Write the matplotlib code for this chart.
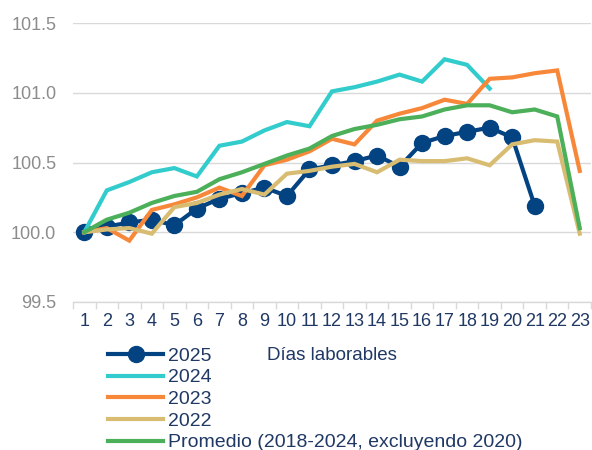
import matplotlib
matplotlib.use('Agg')
import matplotlib.pyplot as plt
import numpy as np

plt.rcParams['font.family'] = ['Liberation Sans', 'DejaVu Sans']

# working days
days = list(range(1, 24))

# index values (day 1 = 100)
y2025 = [100.00, 100.04, 100.07, 100.09, 100.05, 100.17, 100.24, 100.28, 100.32, 100.26,
         100.45, 100.48, 100.51, 100.55, 100.47, 100.64, 100.69, 100.72, 100.75, 100.68,
         100.19]
y2024 = [100.00, 100.30, 100.36, 100.43, 100.46, 100.40, 100.62, 100.65, 100.73, 100.79,
         100.76, 101.01, 101.04, 101.08, 101.13, 101.08, 101.24, 101.20, 101.03]
y2023 = [100.00, 100.03, 99.94, 100.16, 100.20, 100.25, 100.32, 100.26, 100.48, 100.52,
         100.58, 100.67, 100.63, 100.80, 100.85, 100.89, 100.95, 100.92, 101.10, 101.11,
         101.14, 101.16, 100.44]
y2022 = [100.00, 100.02, 100.03, 99.99, 100.18, 100.21, 100.27, 100.31, 100.27, 100.42,
         100.44, 100.47, 100.49, 100.43, 100.52, 100.51, 100.51, 100.53, 100.48, 100.63,
         100.66, 100.65, 99.99]
yprom = [100.00, 100.09, 100.14, 100.21, 100.26, 100.29, 100.38, 100.43, 100.49, 100.55,
         100.60, 100.69, 100.74, 100.77, 100.81, 100.83, 100.88, 100.91, 100.91, 100.86,
         100.88, 100.83, 100.03]

labels = ['2025', '2024', '2023', '2022', 'Promedio (2018-2024, excluyendo 2020)']
colors = ['#034382', '#33CCCC', '#F7883A', '#D8BC72', '#4CAF5A']
yticks = [99.5, 100.0, 100.5, 101.0, 101.5]

txt_dark = '#1F3864'

fig = plt.figure(figsize=(5.92, 4.5), dpi=100)
ax = fig.add_axes([73/592, 1 - 302/450, (591 - 73)/592, (302 - 23)/450])

series = [y2025, y2024, y2023, y2022, yprom]
for i, (vals, lab, col) in enumerate(zip(series, labels, colors)):
    x = days[:len(vals)]
    if i == 0:
        ax.plot(x, vals, color=col, lw=3.0, marker='o', markersize=11.5,
                label=lab, zorder=2, clip_on=False)
    else:
        ax.plot(x, vals, color=col, lw=3.0, label=lab, zorder=2 + i,
                clip_on=False, solid_joinstyle='miter')

ax.set_xlim(0.5, 23.5)
ax.set_ylim(99.5, 101.5)
ax.set_yticks(yticks)
ax.set_yticklabels(['%.1f' % v for v in yticks])
ax.set_xticks(days)
ax.set_xticks(np.arange(0.5, 24, 1), minor=True)

ax.grid(axis='y', color='#D9D9D9', lw=1.0, zorder=0)
for s in ['top', 'right', 'left']:
    ax.spines[s].set_visible(False)
ax.spines['bottom'].set_color('#D9D9D9')
ax.spines['bottom'].set_linewidth(1.0)

ax.tick_params(axis='y', length=0, pad=12, labelsize=13, labelcolor='#8C8C8C')
ax.tick_params(axis='x', which='major', length=0, pad=8, labelsize=13, labelcolor=txt_dark)
ax.tick_params(axis='x', which='minor', length=5, width=1, color='#D9D9D9')

fig.text(332/592, 1 - 355/450, 'Días laborables', ha='center', va='center',
         fontsize=13.5, color=txt_dark)

leg = fig.legend(loc='upper left', bbox_to_anchor=(108/592, 1 - 347/450),
                 frameon=False, fontsize=14, handlelength=2.83, handletextpad=0.26,
                 labelspacing=0.21, borderpad=0, borderaxespad=0)
for t in leg.get_texts():
    t.set_color(txt_dark)

fig.savefig('out.png', dpi=100)
